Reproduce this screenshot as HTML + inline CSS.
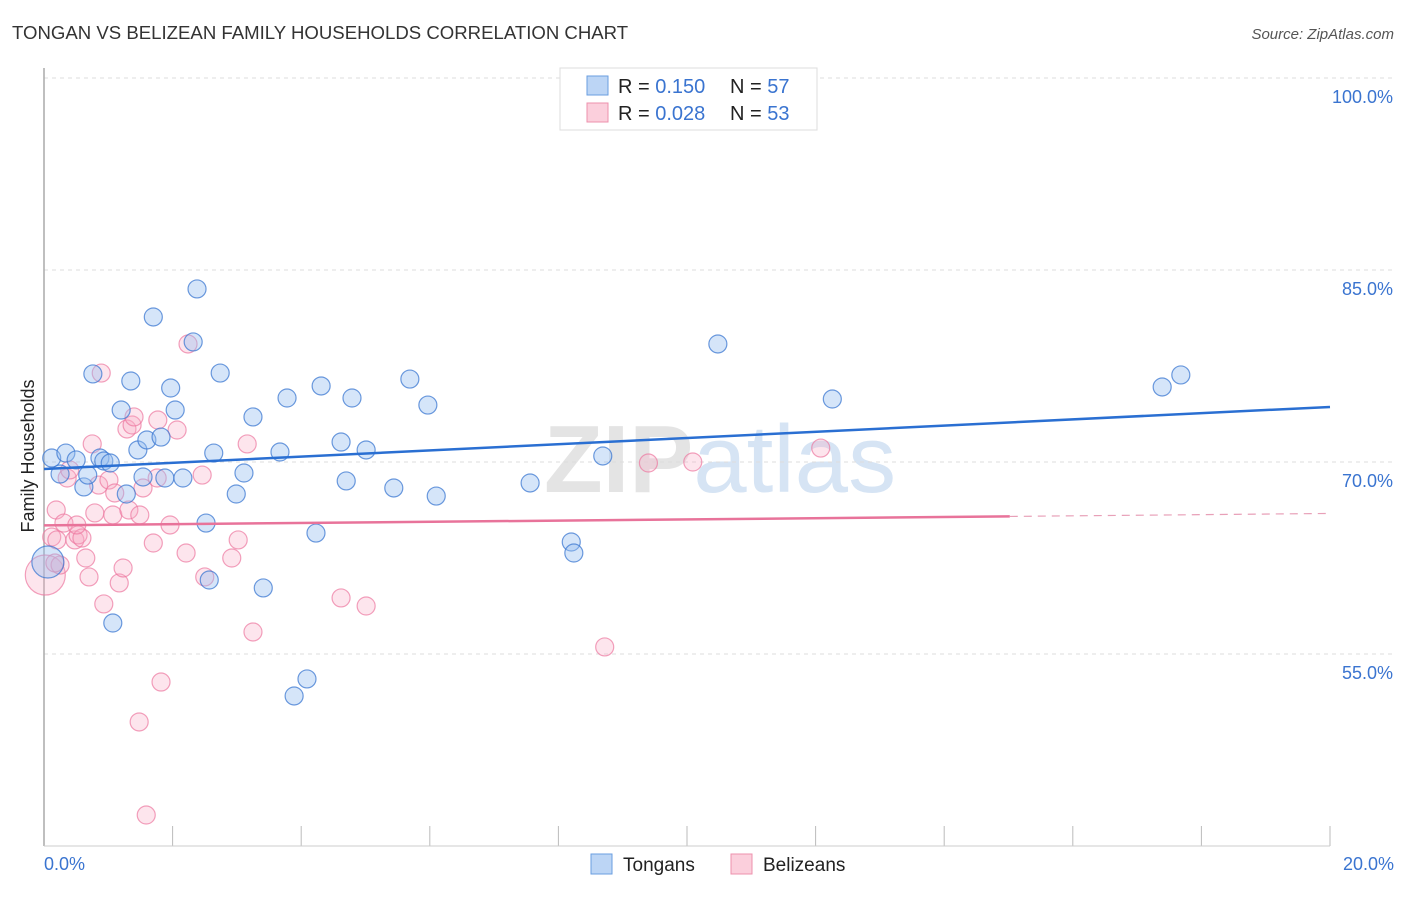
<!DOCTYPE html>
<html><head><meta charset="utf-8"><style>
body{margin:0;background:#fff;font-family:"Liberation Sans",sans-serif;}
svg text{font-family:"Liberation Sans",sans-serif;}
</style></head><body>
<svg id="chart" width="1406" height="892" xmlns="http://www.w3.org/2000/svg">
<text x="12" y="39" font-size="18.6" fill="#333">TONGAN VS BELIZEAN FAMILY HOUSEHOLDS CORRELATION CHART</text>
<text x="1394" y="39" font-size="15" fill="#555" text-anchor="end" font-style="italic">Source: ZipAtlas.com</text>
<text x="720" y="492" font-size="96" fill="#e4e4e4" text-anchor="middle" font-family="Liberation Serif" font-weight="bold">ZIP<tspan fill="#d6e4f4" font-family="Liberation Sans" font-weight="normal">atlas</tspan></text>
<g id="grid"></g>
<line x1="44" y1="68" x2="44" y2="846" stroke="#aaa" stroke-width="1.5"/>
<line x1="44" y1="846" x2="1330" y2="846" stroke="#ccc"/>
<text transform="translate(34,456) rotate(-90)" font-size="18" fill="#222" text-anchor="middle">Family Households</text>
<g id="pts"></g>
<g id="lines"></g>
<text x="44" y="870" font-size="18" fill="#3a74d0">0.0%</text>
<text x="1394" y="870" font-size="18" fill="#3a74d0" text-anchor="end">20.0%</text>
<g>
<rect x="560" y="68" width="257" height="62" fill="#fff" stroke="#ddd"/>
<rect x="587" y="76" width="21" height="19" fill="#bcd5f5" stroke="#6a9ee0"/>
<rect x="587" y="103" width="21" height="19" fill="#fbcfdc" stroke="#ee90ad"/>
<text x="618" y="93" font-size="20" fill="#222">R = <tspan fill="#3a74d0"> 0.150</tspan></text>
<text x="730" y="93" font-size="20" fill="#222">N = <tspan fill="#3a74d0">57</tspan></text>
<text x="618" y="120" font-size="20" fill="#222">R = <tspan fill="#3a74d0">0.028</tspan></text>
<text x="730" y="120" font-size="20" fill="#222">N = <tspan fill="#3a74d0">53</tspan></text>
</g>
<g><rect x="591" y="854" width="21" height="20" fill="#bcd5f5" stroke="#6a9ee0"/><text x="623" y="871" font-size="19" fill="#222">Tongans</text></g>
<g><rect x="731" y="854" width="21" height="20" fill="#fbcfdc" stroke="#ee90ad"/><text x="763" y="871" font-size="19" fill="#222">Belizeans</text></g>
</svg>
<script>
const yTicks=[100,85,70,55];
const xTickVals=[0,2,4,6,8,10,12,14,16,18,20];
const tonganX=[0.12,0.34,0.25,0.50,0.62,0.68,0.87,0.93,1.03,0.76,1.07,1.20,1.28,1.35,1.46,1.54,1.60,1.70,1.82,1.88,1.97,2.04,2.16,2.38,2.32,2.52,2.57,2.64,2.74,2.99,3.11,3.25,3.41,3.67,3.78,3.89,4.09,4.23,4.31,4.62,4.70,4.79,5.01,5.44,5.69,5.97,6.10,7.56,8.20,8.24,8.69,10.48,12.26,17.39,17.68,0.06];
const tonganY=[70.31,70.70,69.06,70.16,68.05,68.98,70.31,70.08,69.92,76.88,57.42,74.06,67.50,76.33,70.94,68.83,71.72,81.33,71.95,68.75,75.78,74.06,68.75,83.52,79.38,65.23,60.78,70.70,76.95,67.50,69.14,73.52,60.16,70.78,75.0,51.72,53.05,64.45,75.94,71.56,68.52,75.0,70.94,67.97,76.48,74.45,67.34,68.36,63.75,62.89,70.47,79.22,74.92,75.86,76.80,62.19];
const belizeX=[0.02,0.12,0.19,0.20,0.25,0.31,0.36,0.40,0.48,0.53,0.59,0.65,0.70,0.75,0.79,0.85,0.89,0.93,1.01,1.07,1.10,1.17,1.23,1.29,1.32,1.37,1.40,1.48,1.54,1.59,1.70,1.76,1.82,1.77,1.96,2.07,2.21,2.24,2.46,2.50,2.92,3.02,3.16,3.25,4.62,5.01,8.72,9.40,10.09,12.08,0.17,1.49,0.51];
const belizeY=[61.17,64.14,66.25,63.91,61.95,65.23,68.75,69.38,63.91,64.30,64.06,62.50,61.02,71.41,66.02,68.20,76.95,58.91,68.59,65.86,67.58,60.55,61.72,72.58,66.25,72.89,73.52,49.69,67.97,42.42,63.67,68.75,52.81,73.28,65.08,72.50,62.89,79.22,68.98,61.02,62.50,63.91,71.41,56.72,59.38,58.75,55.55,69.92,70.0,71.09,62.11,65.86,65.08];
const tonganSize=[9,9,9,9,9,9,9,9,9,9,9,9,9,9,9,9,9,9,9,9,9,9,9,9,9,9,9,9,9,9,9,9,9,9,9,9,9,9,9,9,9,9,9,9,9,9,9,9,9,9,9,9,9,9,9,16];
const NS="http://www.w3.org/2000/svg";
const X0=44,X1=1330;
function sx(v){return X0+(v-0)/(20-0)*(X1-X0);}
function sy(v){return 462-(v-70)*12.8;}
const grid=document.getElementById('grid');
yTicks.forEach(t=>{
 const l=document.createElementNS(NS,'line');
 
 
 l.setAttribute('x1',X0);l.setAttribute('x2',1394);l.setAttribute('y1',sy(t));l.setAttribute('y2',sy(t));
 l.setAttribute('stroke','#ddd');l.setAttribute('stroke-dasharray','4,4');grid.appendChild(l);
 const tx=document.createElementNS(NS,'text');
 
 
 tx.setAttribute('x',1393);tx.setAttribute('y',sy(t)+25);tx.setAttribute('font-size','18');tx.setAttribute('fill','#3a74d0');tx.setAttribute('text-anchor','end');
 tx.textContent=t.toFixed(1)+'%';grid.appendChild(tx);
});
xTickVals.forEach(t=>{
 const l=document.createElementNS(NS,'line');
 
 
 l.setAttribute('x1',sx(t));l.setAttribute('x2',sx(t));l.setAttribute('y1',826);l.setAttribute('y2',846);
 l.setAttribute('stroke','#bbb');grid.appendChild(l);
});
const pts=document.getElementById('pts');
function dot(x,y,r,fill,stroke,name){
 const c=document.createElementNS(NS,'circle');
 
 
 c.setAttribute('cx',sx(x));c.setAttribute('cy',sy(y));c.setAttribute('r',r);
 c.setAttribute('fill',fill);c.setAttribute('stroke',stroke);c.setAttribute('stroke-width','1.2');
 pts.appendChild(c);
}
belizeX.forEach((x,i)=>dot(x,belizeY[i],i===0?20:9,'rgba(248,170,195,0.3)','rgba(236,120,160,0.7)','belizean-point'));
tonganX.forEach((x,i)=>dot(x,tonganY[i],tonganSize[i],'rgba(150,190,240,0.4)','rgba(60,120,210,0.75)','tongan-point'));
const lines=document.getElementById('lines');
function seg(x1,y1,x2,y2,col,dash,name){
 const l=document.createElementNS(NS,'line');
 
 
 l.setAttribute('x1',sx(x1));l.setAttribute('y1',sy(y1));l.setAttribute('x2',sx(x2));l.setAttribute('y2',sy(y2));
 l.setAttribute('stroke',col);l.setAttribute('stroke-width',dash?1.2:2.5);
 if(dash)l.setAttribute('stroke-dasharray','8,6');
 lines.appendChild(l);
}
const tA=69.45,tB=(74.3-69.45)/20;
const bA=65.05,bB=(65.98-65.05)/20;
seg(0,tA,20,tA+tB*20,'#2a6fd2',false,'tongan-trendline');
seg(0,bA,15.02,bA+bB*15.02,'#e8739a',false,'belizean-trendline');
seg(15.02,bA+bB*15.02,20,bA+bB*20,'#e8a0b8',true,'belizean-trendline-extrapolated');
</script>
</body></html>
